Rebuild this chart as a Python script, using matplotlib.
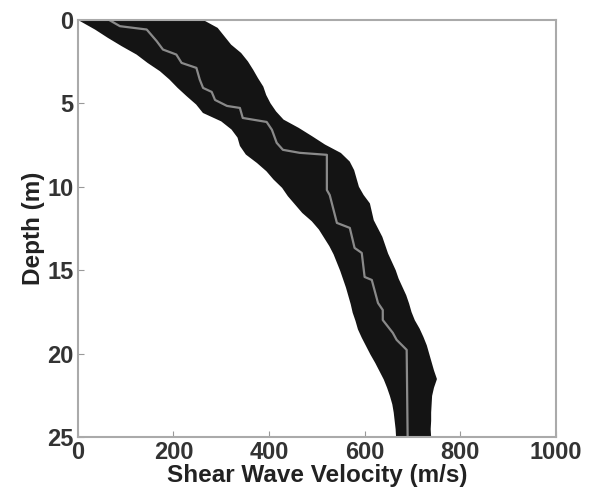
import numpy as np
import matplotlib
matplotlib.use('Agg')
import matplotlib.pyplot as plt

plt.rcParams['font.family'] = ['Liberation Sans', 'DejaVu Sans']
plt.rcParams['font.weight'] = 'bold'

# envelope of the simulated Vs profiles
band_depth = [0, 0.5, 1, 1.5, 2, 2.5, 3, 3.5, 4, 4.5, 5, 5.5, 6, 6.5, 7, 7.5, 8, 8.5,
              9, 9.5, 10, 10.5, 11, 11.5, 12, 12.5, 13, 13.5, 14, 14.5, 15, 15.5, 16,
              16.5, 17, 17.5, 18, 18.5, 19, 19.5, 20, 20.5, 21, 21.5, 22, 22.5, 23,
              23.5, 24, 24.5, 25]
band_left = [5, 36, 63, 92, 123, 146, 172, 192, 209, 228, 248, 262, 300, 322, 335, 340,
             352, 375, 395, 410, 428, 440, 455, 470, 490, 505, 516, 527, 536, 543, 550,
             556, 562, 567, 572, 576, 582, 587, 595, 604, 613, 623, 632, 641, 648, 654,
             659, 662, 664, 666, 667]
band_right = [258, 290, 304, 318, 339, 353, 364, 374, 385, 391, 400, 412, 428, 460, 488,
              515, 548, 566, 575, 580, 585, 595, 608, 612, 616, 625, 634, 640, 646, 654,
              662, 668, 676, 684, 690, 695, 702, 712, 720, 727, 732, 737, 742, 748, 742,
              738, 737, 736, 736, 735, 736]

# median profile (gray line)
med_vs = [65, 88, 144, 165, 178, 206, 217, 248, 255, 262, 280, 287, 312, 339, 345, 395,
          406, 416, 429, 464, 521, 521, 527, 542, 569, 579, 594, 600, 615, 628, 638, 638,
          659, 667, 688, 690]
med_depth = [0, 0.38, 0.58, 1.28, 1.78, 2.08, 2.58, 2.88, 3.58, 4.08, 4.32, 4.80, 5.16,
             5.28, 5.88, 6.12, 6.59, 7.37, 7.79, 7.97, 8.09, 10.2, 10.5, 12.17, 12.47,
             13.67, 13.97, 15.41, 15.59, 16.97, 17.39, 17.99, 18.76, 19.18, 19.78, 25]

x_ticks = [0, 200, 400, 600, 800, 1000]
y_ticks = [0, 5, 10, 15, 20, 25]

fig = plt.figure(figsize=(5.9, 4.96), dpi=100)
ax = fig.add_axes([0.132, 0.119, 0.81, 0.841])

ax.fill_betweenx(band_depth, band_left, band_right, color='#141414',
                 edgecolor='#141414', linewidth=1.5, joinstyle='round')
ax.plot(med_vs, med_depth, color='#8a8a8a', lw=1.6)

ax.set_xlim(0, 1000)
ax.set_ylim(25, 0)
ax.set_xticks(x_ticks)
ax.set_yticks(y_ticks)
ax.tick_params(direction='in', length=4, color='#999999', labelsize=17,
               labelcolor='#333333', pad=3)
for s in ax.spines.values():
    s.set_color('#aaaaaa')
    s.set_linewidth(1.5)

ax.set_xlabel('Shear Wave Velocity (m/s)', fontsize=17.5, fontweight='bold',
              color='#222222', labelpad=0)
ax.set_ylabel('Depth (m)', fontsize=17.5, fontweight='bold', color='#222222',
              labelpad=2)

fig.savefig('out.png', dpi=100)
